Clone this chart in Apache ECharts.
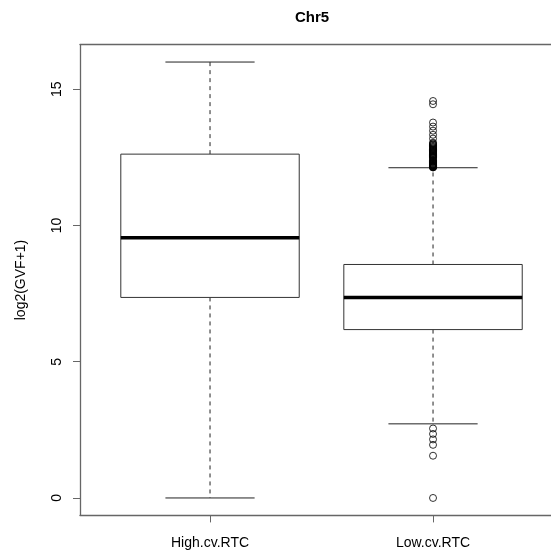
<!DOCTYPE html>
<html>
<head>
<meta charset="utf-8">
<script src="https://cdn.jsdelivr.net/npm/echarts@6/dist/echarts.min.js"></script>
<style>html,body{margin:0;padding:0;background:#fff}#c{width:551px;height:557px}</style>
</head>
<body>
<div id="c"></div>
<script>
const title = 'Chr5';
const yName = 'log2(GVF+1)';
const categories = ['High.cv.RTC', 'Low.cv.RTC'];
// [lower whisker, Q1, median, Q3, upper whisker]
const highStats = [0, 7.36, 9.55, 12.62, 16.0];
const lowStats = [2.72, 6.18, 7.36, 8.57, 12.12];
const highOutliers = [];
const lowOutliers = [0, 1.55, 1.95, 2.15, 2.35, 2.55,
  12.13, 12.14, 12.15, 12.16, 12.17, 12.18, 12.19, 12.2, 12.21, 12.22, 12.23, 12.24,
  12.26, 12.28, 12.3, 12.32, 12.34, 12.36, 12.38, 12.4,
  12.48, 12.5, 12.52, 12.54, 12.56, 12.58, 12.6, 12.62, 12.64, 12.66, 12.68, 12.7,
  12.72, 12.74, 12.76, 12.78, 12.8, 12.83, 12.86, 12.89, 12.92, 12.95, 12.98, 13.01, 13.04,
  13.19, 13.33, 13.48, 13.63, 13.78, 14.45, 14.57];
const yTicks = [0, 5, 10, 15];

const boxData = [[1].concat(highStats), [2].concat(lowStats)];
const outData = highOutliers.map(v => [1, v]).concat(lowOutliers.map(v => [2, v]));

const font = "'Liberation Sans', Arial, sans-serif";
const chart = echarts.init(document.getElementById('c'), null, {renderer: 'canvas'});

function renderBox(params, api) {
  const x = api.value(0);
  const mn = api.value(1), q1 = api.value(2), md = api.value(3), q3 = api.value(4), mx = api.value(5);
  const hw = 0.4, cw = 0.2;
  const p = (a, b) => api.coord([a, b]);
  const ln = (a, b, style) => ({type: 'line', shape: {x1: a[0], y1: a[1], x2: b[0], y2: b[1]}, style: style});
  const solid = {stroke: '#222', lineWidth: 1};
  const dashed = {stroke: '#222', lineWidth: 1, lineDash: [4, 4]};
  const tl = p(x - hw, q3), br = p(x + hw, q1);
  return {type: 'group', children: [
    ln(p(x, q3), p(x, mx), dashed),
    ln(p(x, q1), p(x, mn), dashed),
    ln(p(x - cw, mx), p(x + cw, mx), solid),
    ln(p(x - cw, mn), p(x + cw, mn), solid),
    {type: 'rect', shape: {x: tl[0], y: tl[1], width: br[0] - tl[0], height: br[1] - tl[1]},
     style: {fill: '#fff', stroke: '#333', lineWidth: 1}},
    ln(p(x - hw, md), p(x + hw, md), {stroke: '#000', lineWidth: 3.5})
  ]};
}

chart.setOption({
  animation: false,
  backgroundColor: '#fff',
  graphic: [{type: 'text', left: 295, top: 10, style: {text: title, font: "bold 15px " + font, fill: '#000'}}],
  grid: {left: 80, right: 0, top: 44.6, bottom: 41.6},
  xAxis: [{
    type: 'value', min: 0.417, max: 2.529, position: 'bottom',
    splitLine: {show: false},
    axisLine: {show: true, onZero: false, lineStyle: {color: '#666', width: 1.3}},
    axisTick: {show: true, length: 7, customValues: [1, 2], lineStyle: {color: '#666'}},
    axisLabel: {customValues: [1, 2], formatter: v => categories[Math.round(v) - 1], margin: 21,
      color: '#000', fontSize: 14, fontFamily: font}
  }, {
    type: 'value', min: 0.417, max: 2.529, position: 'top',
    splitLine: {show: false},
    axisLine: {show: true, onZero: false, lineStyle: {color: '#666', width: 1.3}},
    axisTick: {show: false}, axisLabel: {show: false}
  }],
  yAxis: {
    type: 'value', min: -0.64, max: 16.64,
    name: yName, nameLocation: 'middle', nameGap: 52,
    nameTextStyle: {color: '#000', fontSize: 14, fontFamily: font},
    splitLine: {show: false},
    axisLine: {show: true, onZero: false, lineStyle: {color: '#666', width: 1.3}},
    axisTick: {show: true, length: 7, customValues: yTicks, lineStyle: {color: '#666'}},
    axisLabel: {customValues: yTicks, rotate: 90, margin: 16, color: '#000', fontSize: 14, fontFamily: font}
  },
  series: [{
    type: 'custom', renderItem: renderBox, data: boxData, xAxisIndex: 0,
    encode: {x: 0, y: [1, 2, 3, 4, 5]}
  }, {
    type: 'scatter', data: outData, xAxisIndex: 0, symbol: 'circle', symbolSize: 7,
    itemStyle: {color: 'rgba(0,0,0,0)', borderColor: '#000', borderWidth: 1}, z: 5
  }]
});
</script>
</body>
</html>
